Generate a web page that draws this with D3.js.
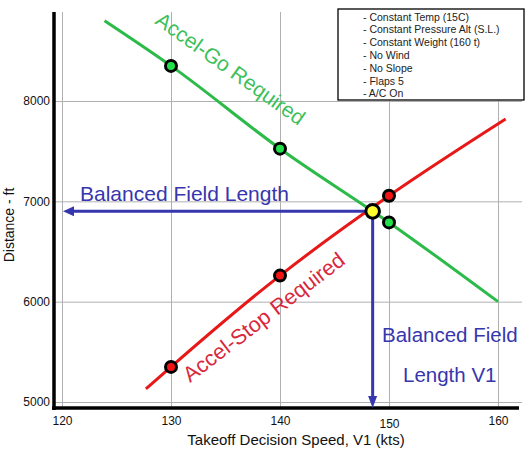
<!DOCTYPE html>
<html>
<head>
<meta charset="utf-8">
<script src="https://cdn.jsdelivr.net/npm/d3@7"></script>
<style>
  body { margin: 0; background: #fff; }
  svg { display: block; font-family: "Liberation Sans", Arial, sans-serif; }
</style>
</head>
<body>
<div id="vis"></div>
<script>
// values
const speedTicks = [120, 130, 140, 150, 160];
const distTicks = [5000, 6000, 7000, 8000];
const goLine = [[123.9, 8800], [130, 8350], [140, 7525], [150, 6790], [160, 6000]];
const stopLine = [[127.7, 5130], [130, 5350], [140, 6260], [150, 7055], [160.7, 7820]];
const goPoints = [[130, 8350], [140, 7525], [150, 6790]];
const stopPoints = [[130, 5350], [140, 6260], [150, 7055]];
const balancedPoint = [148.5, 6900];
const notes = [
    "- Constant Temp (15C)",
    "- Constant Pressure Alt (S.L.)",
    "- Constant Weight (160 t)",
    "- No Wind",
    "- No Slope",
    "- Flaps 5",
    "- A/C On"
];

const width = 532, height = 449;
const plot = { left: 54, right: 522, top: 12, bottom: 408 };

const blue = "#3636ae";

const svg = d3.select("#vis")
  .append("svg")
    .attr("width", width)
    .attr("height", height);

const x = d3.scaleLinear().domain([120, 160]).range([62, 498]);
const y = d3.scaleLinear().domain([5000, 8000]).range([402, 101]);

// grid
const gx = svg.append("g")
    .attr("transform", `translate(0, ${plot.bottom})`)
    .call(d3.axisBottom(x).tickValues(speedTicks).tickSize(-(plot.bottom - plot.top)).tickFormat(""));
const gy = svg.append("g")
    .attr("transform", `translate(${plot.left}, 0)`)
    .call(d3.axisLeft(y).tickValues(distTicks).tickSize(-(plot.right - plot.left)).tickFormat(""));
[gx, gy].forEach(g => {
    g.select(".domain").remove();
    g.selectAll("line").attr("stroke", "#b0b0b0").attr("stroke-width", 1);
});

// tick labels
const xAxis = svg.append("g")
    .attr("transform", `translate(0, ${plot.bottom})`)
    .call(d3.axisBottom(x).tickValues(speedTicks).tickSize(0).tickPadding(8));
const yAxis = svg.append("g")
    .attr("transform", `translate(${plot.left}, 0)`)
    .call(d3.axisLeft(y).tickValues(distTicks).tickFormat(d3.format("d")).tickSize(0).tickPadding(4));
[xAxis, yAxis].forEach(g => {
    g.select(".domain").remove();
    g.selectAll("text")
        .style("font-family", "'Liberation Sans', Arial, sans-serif")
        .style("font-size", "12px")
        .attr("fill", "#111");
});
xAxis.selectAll("text").filter(d => d === 150).attr("dy", "1.0em");

// thick axis lines
svg.append("line")
    .attr("x1", plot.left).attr("x2", plot.left)
    .attr("y1", plot.top).attr("y2", plot.bottom + 2)
    .attr("stroke", "#000").attr("stroke-width", 3.5);
svg.append("line")
    .attr("x1", plot.left - 2).attr("x2", 519)
    .attr("y1", plot.bottom).attr("y2", plot.bottom)
    .attr("stroke", "#000").attr("stroke-width", 3.5);

// axis titles
svg.append("text")
    .attr("x", 296).attr("y", 445)
    .attr("text-anchor", "middle")
    .style("font-size", "15px")
    .attr("fill", "#111")
    .text("Takeoff Decision Speed, V1 (kts)");
svg.append("text")
    .attr("transform", "translate(14, 225) rotate(-90)")
    .attr("text-anchor", "middle")
    .style("font-size", "14px")
    .attr("fill", "#111")
    .text("Distance - ft");

// conditions box
svg.append("rect")
    .attr("x", 338).attr("y", 9)
    .attr("width", 186).attr("height", 91)
    .attr("fill", "#fff")
    .attr("stroke", "#000").attr("stroke-width", 1.3);
svg.append("g").selectAll("text")
    .data(notes)
    .join("text")
    .attr("x", 363)
    .attr("y", (d, i) => 20.5 + i * 12.8)
    .style("font-size", "10.5px")
    .attr("fill", "#222")
    .text(d => d);

// lines
const line = d3.line()
    .x(d => x(d[0]))
    .y(d => y(d[1]))
    .curve(d3.curveMonotoneX);
svg.append("path")
    .attr("d", line(goLine))
    .attr("fill", "none")
    .attr("stroke", "#2cba48")
    .attr("stroke-width", 3);
svg.append("path")
    .attr("d", line(stopLine))
    .attr("fill", "none")
    .attr("stroke", "#e81818")
    .attr("stroke-width", 3);

// blue arrows from the balanced point
const bx = x(balancedPoint[0]), by = y(balancedPoint[1]);
const tipX = x(120) + 1, tipY = plot.bottom;
svg.append("line")
    .attr("x1", bx).attr("x2", tipX + 8)
    .attr("y1", by).attr("y2", by)
    .attr("stroke", blue).attr("stroke-width", 3);
svg.append("path")
    .attr("d", `M${tipX},${by} L${tipX + 11},${by - 5} L${tipX + 11},${by + 5} Z`)
    .attr("fill", blue);
svg.append("line")
    .attr("x1", bx).attr("x2", bx)
    .attr("y1", by).attr("y2", tipY - 8)
    .attr("stroke", blue).attr("stroke-width", 3);
svg.append("path")
    .attr("d", `M${bx},${tipY} L${bx - 4.5},${tipY - 12} L${bx + 4.5},${tipY - 12} Z`)
    .attr("fill", blue);

// dots
svg.append("g").selectAll("circle")
    .data(goPoints)
    .join("circle")
    .attr("cx", d => x(d[0]))
    .attr("cy", d => y(d[1]))
    .attr("r", 5.5)
    .attr("fill", "#22e04c")
    .attr("stroke", "#000")
    .attr("stroke-width", 3);
svg.append("g").selectAll("circle")
    .data(stopPoints)
    .join("circle")
    .attr("cx", d => x(d[0]))
    .attr("cy", d => y(d[1]))
    .attr("r", 5.5)
    .attr("fill", "#f41414")
    .attr("stroke", "#000")
    .attr("stroke-width", 3);
svg.append("circle")
    .attr("cx", bx).attr("cy", by)
    .attr("r", 6.8)
    .attr("fill", "#ffff30")
    .attr("stroke", "#000")
    .attr("stroke-width", 3);

// labels
svg.append("text")
    .attr("transform", "translate(154, 23) rotate(35.5)")
    .style("font-size", "21px")
    .attr("fill", "#3cc05a")
    .text("Accel-Go Required");
svg.append("text")
    .attr("transform", "translate(190, 383) rotate(-37.5)")
    .style("font-size", "21.5px")
    .attr("fill", "#d8283c")
    .text("Accel-Stop Required");
svg.append("text")
    .attr("x", 80).attr("y", 201)
    .style("font-size", "21px")
    .attr("fill", blue)
    .text("Balanced Field Length");
svg.append("text")
    .attr("x", 382).attr("y", 342)
    .style("font-size", "20.5px")
    .attr("fill", blue)
    .text("Balanced Field");
svg.append("text")
    .attr("x", 403).attr("y", 382)
    .style("font-size", "20.5px")
    .attr("fill", blue)
    .text("Length V1");
</script>
</body>
</html>
